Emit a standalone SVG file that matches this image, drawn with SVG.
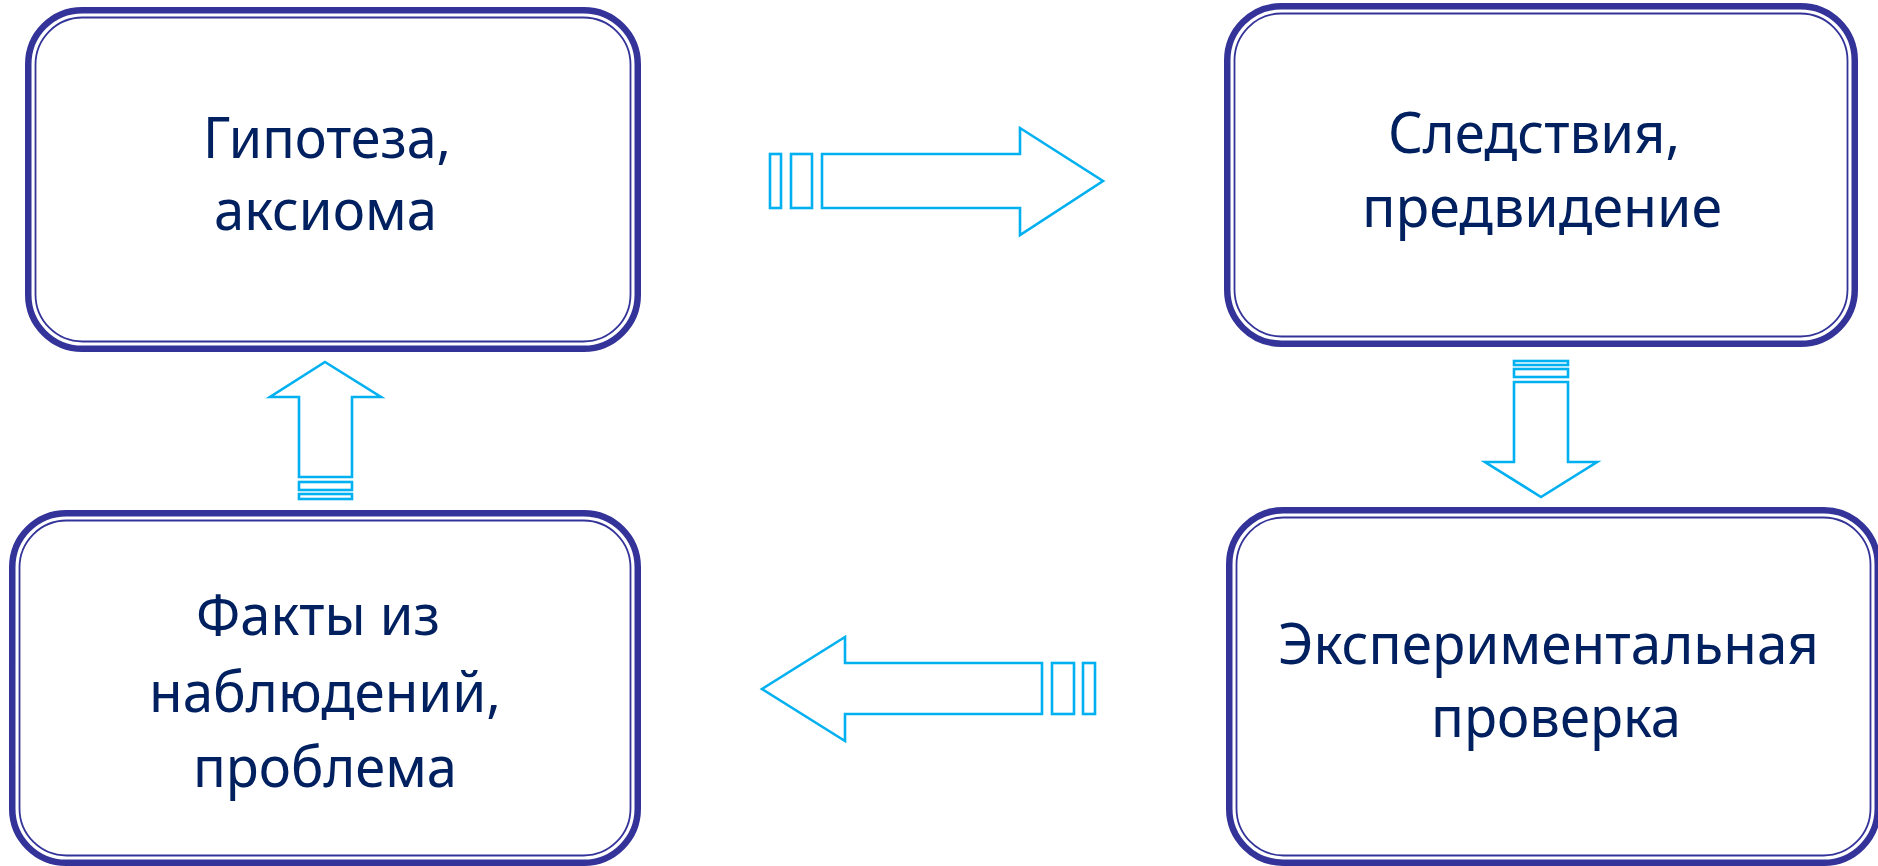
<svg xmlns="http://www.w3.org/2000/svg" width="1878" height="866" viewBox="0 0 1878 866">
<style>
.outer{fill:none;stroke:#333399;stroke-width:6.5}
.inner{fill:none;stroke:#333399;stroke-width:1.8}
.lbl{font-family:"Noto Sans","Open Sans","DejaVu Sans",sans-serif;font-size:56px;fill:#002060;text-anchor:middle}
.arr{fill:#ffffff;stroke:#00B0F0;stroke-width:2.6;stroke-linejoin:miter}
</style>
<rect width="1878" height="866" fill="#ffffff"/>
<g id="connectors">
  <g id="arrow-right">
    <rect class="arr" x="770" y="154" width="11" height="54"/>
    <rect class="arr" x="791" y="154" width="21" height="54"/>
    <polygon class="arr" points="822,154 1020,154 1020,128 1103,181 1020,235 1020,208 822,208"/>
  </g>
  <g id="arrow-down">
    <rect class="arr" x="1514" y="361" width="54" height="4"/>
    <rect class="arr" x="1514" y="369" width="54" height="8"/>
    <polygon class="arr" points="1514,382 1568,382 1568,462 1597,462 1541,497 1485,462 1514,462"/>
  </g>
  <g id="arrow-left">
    <polygon class="arr" points="762,689 845,637 845,663 1042,663 1042,714 845,714 845,741"/>
    <rect class="arr" x="1052" y="663" width="22" height="51"/>
    <rect class="arr" x="1083" y="663" width="12" height="51"/>
  </g>
  <g id="arrow-up">
    <polygon class="arr" points="325,362 381,397 352,397 352,477 299,477 299,397 270,397"/>
    <rect class="arr" x="299" y="482" width="53" height="8"/>
    <rect class="arr" x="299" y="494" width="53" height="5"/>
  </g>
</g>
<g id="node-hypothesis">
  <rect class="outer" x="28.25" y="10.25" width="609.5" height="338.5" rx="54"/>
  <rect class="inner" x="35.5" y="17.5" width="595" height="324" rx="47"/>
  <text class="lbl" x="327" y="158" textLength="248" lengthAdjust="spacingAndGlyphs">Гипотеза,</text>
  <text class="lbl" x="325.5" y="230" textLength="223" lengthAdjust="spacingAndGlyphs">аксиома</text>
</g>
<g id="node-consequences">
  <rect class="outer" x="1227.25" y="6.25" width="627.5" height="337.5" rx="54"/>
  <rect class="inner" x="1234.5" y="13.5" width="613" height="323" rx="47"/>
  <text class="lbl" x="1534" y="153" textLength="292" lengthAdjust="spacingAndGlyphs">Следствия,</text>
  <text class="lbl" x="1542" y="227" textLength="360" lengthAdjust="spacingAndGlyphs">предвидение</text>
</g>
<g id="node-facts">
  <rect class="outer" x="12.25" y="513.25" width="625.5" height="349.5" rx="54"/>
  <rect class="inner" x="19.5" y="520.5" width="611" height="335" rx="47"/>
  <text class="lbl" x="318" y="635" textLength="244" lengthAdjust="spacingAndGlyphs">Факты из</text>
  <text class="lbl" x="325" y="712" textLength="352" lengthAdjust="spacingAndGlyphs">наблюдений,</text>
  <text class="lbl" x="325" y="787" textLength="264" lengthAdjust="spacingAndGlyphs">проблема</text>
</g>
<g id="node-experiment">
  <rect class="outer" x="1229.25" y="510.25" width="648.5" height="352.5" rx="54"/>
  <rect class="inner" x="1236.5" y="517.5" width="634" height="338" rx="47"/>
  <text class="lbl" x="1548.5" y="664" textLength="541" lengthAdjust="spacingAndGlyphs">Экспериментальная</text>
  <text class="lbl" x="1556" y="737" textLength="250" lengthAdjust="spacingAndGlyphs">проверка</text>
</g>
</svg>
